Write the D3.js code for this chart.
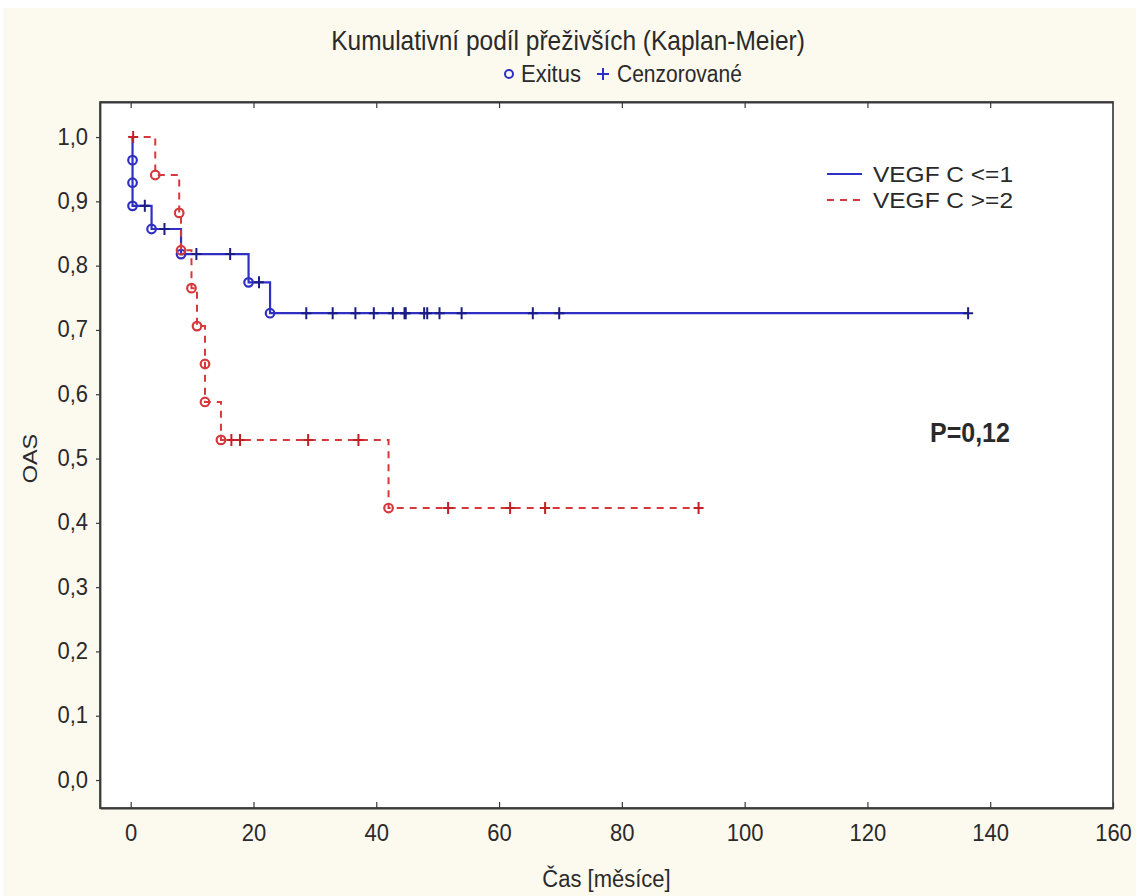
<!DOCTYPE html>
<html>
<head>
<meta charset="utf-8">
<script src="https://cdn.jsdelivr.net/npm/d3@7"></script>
<style>
  html, body { margin: 0; padding: 0; background: #ffffff; }
  svg { display: block; }
  text { font-family: "Liberation Sans", Arial, sans-serif; fill: #2a2a2a; }
</style>
</head>
<body>
<svg id="chart" width="1136" height="896"></svg>
<script>
// ---------------- data ----------------
const xTicks = [0, 20, 40, 60, 80, 100, 120, 140, 160];
const yTicks = [0, 0.1, 0.2, 0.3, 0.4, 0.5, 0.6, 0.7, 0.8, 0.9, 1.0];

const seriesNames = ["VEGF C <=1", "VEGF C >=2"];

// VEGF C <=1 : deaths (o) and censored (+)
const blueEventTimes = [0.3, 0.3, 0.3, 3.4, 8.2, 19.2, 22.7];
const blueEventSurv  = [0.964, 0.929, 0.893, 0.857, 0.818, 0.774, 0.726];
const blueCensorTimes = [2.3, 5.5, 10.7, 16.2, 20.9, 28.6, 32.9, 36.6, 39.6, 42.7,
                         44.6, 44.8, 47.8, 48.3, 50.3, 53.9, 65.5, 69.8, 136.4];

// VEGF C >=2
const redEventTimes = [4.0, 7.9, 8.2, 9.9, 10.8, 12.1, 12.1, 14.7, 42.0];
const redEventSurv  = [0.941, 0.882, 0.824, 0.765, 0.706, 0.647, 0.588, 0.529, 0.423];
const redCensorTimes = [0.4, 16.4, 17.8, 28.9, 37.1, 51.7, 61.8, 67.5, 92.5];

const titleText = "Kumulativní podíl přeživších (Kaplan-Meier)";
const markerLabels = ["Exitus", "Cenzorované"];
const xTitle = "Čas [měsíce]";
const yTitle = "OAS";
const pText = "P=0,12";

// ---------------- layout ----------------
const svg = d3.select("#chart");
const W = 1136, H = 896;
const plot = { left: 100, right: 1113, top: 102, bottom: 808 };
const STRETCH = 1.12; // reference glyphs are slightly taller than wide

const x = d3.scaleLinear().domain([-5, 160]).range([plot.left, plot.right]);
const y = d3.scaleLinear().domain([-0.0435, 1.0545]).range([plot.bottom, plot.top]);

const BLUE = "#2f2fc4", BLUE_DARK = "#1c1c86";
const RED = "#d6383c", RED_DARK = "#c41f26";

function addText(px, py, str, size, opts = {}) {
  const k = opts.stretch === undefined ? STRETCH : opts.stretch;
  const rot = opts.rotate ? ` rotate(${opts.rotate})` : "";
  const sc = opts.rotate ? `scale(${k},1)` : `scale(1,${k})`;
  const t = svg.append("text")
    .attr("transform", `translate(${px},${py})${rot} ${sc}`)
    .attr("text-anchor", opts.anchor || "start")
    .attr("font-size", size)
    .attr("font-weight", opts.bold ? "bold" : null)
    .attr("fill", opts.fill || "#2a2a2a")
    .text(str);
  if (opts.length) t.attr("textLength", opts.length).attr("lengthAdjust", "spacingAndGlyphs");
  return t;
}

// cream background
svg.append("rect").attr("x", 3).attr("y", 8).attr("width", W - 3).attr("height", H - 8)
   .attr("fill", "#fcf9ee");
// plot area
svg.append("rect").attr("x", plot.left).attr("y", plot.top)
   .attr("width", plot.right - plot.left).attr("height", plot.bottom - plot.top)
   .attr("fill", "#ffffff").attr("stroke", "#4a4a4a").attr("stroke-width", 1.8);

// ---------------- axes ----------------
const fmt = d => d3.format(".1f")(d).replace(".", ",");

const xAxisB = svg.append("g").attr("transform", `translate(0,${plot.bottom})`)
  .call(d3.axisBottom(x).tickValues(xTicks).tickSizeInner(-6).tickSizeOuter(0).tickPadding(14));
const xAxisT = svg.append("g").attr("transform", `translate(0,${plot.top})`)
  .call(d3.axisTop(x).tickValues(xTicks.slice(0, -1)).tickSizeInner(-6).tickSizeOuter(0).tickFormat(""));
const yAxisL = svg.append("g").attr("transform", `translate(${plot.left},0)`)
  .call(d3.axisLeft(y).tickValues(yTicks).tickSizeInner(4).tickSizeOuter(0).tickPadding(8).tickFormat(fmt));

[xAxisB, xAxisT, yAxisL].forEach(g => {
  g.select(".domain").attr("stroke", "#3a3a3a").attr("stroke-width", 1.8);
  g.selectAll(".tick line").attr("stroke", "#3a3a3a").attr("stroke-width", 1.2);
  g.selectAll(".tick text").attr("font-family", "Liberation Sans, Arial, sans-serif")
    .attr("font-size", 22).attr("fill", "#2a2a2a")
    .attr("transform", `scale(1,${STRETCH})`);
});
// keep the left labels centred on their ticks after the vertical stretch
yAxisL.selectAll(".tick text").attr("dy", (0.32 / STRETCH) + "em");

// ---------------- titles ----------------
addText(568, 50, titleText, 24.5, { anchor: "middle" });

// marker legend
svg.append("circle").attr("cx", 509).attr("cy", 74).attr("r", 4)
   .attr("fill", "none").attr("stroke", BLUE).attr("stroke-width", 2);
addText(521, 82, markerLabels[0], 22);
svg.append("path").attr("d", "M597,74H609M603,68V80").attr("stroke", BLUE).attr("stroke-width", 2);
addText(617, 82, markerLabels[1], 21);

addText((plot.left + plot.right) / 2, 887, xTitle, 22, { anchor: "middle" });
addText(37, y(0.5), yTitle, 21, { anchor: "middle", rotate: -90 });

addText(930, 442, pText, 25, { bold: true, fill: "#1a1a1a" });

// ---------------- KM curves ----------------
function survAt(evT, evS, t) {
  let s = 1;
  evT.forEach((et, i) => { if (et <= t) s = evS[i]; });
  return s;
}
function buildPoints(evT, evS, cT) {
  const pts = [{ t: 0, s: 1 }];
  evT.forEach((t, i) => pts.push({ t, s: evS[i] }));
  cT.forEach(t => pts.push({ t, s: survAt(evT, evS, t) }));
  return pts.sort((a, b) => a.t - b.t || b.s - a.s);
}

const line = d3.line().x(d => x(d.t)).y(d => y(d.s)).curve(d3.curveStepAfter);

function drawSeries(evT, evS, cT, color, dark, dashed) {
  const g = svg.append("g");
  g.append("path").datum(buildPoints(evT, evS, cT))
    .attr("d", line).attr("fill", "none").attr("stroke", color)
    .attr("stroke-width", dashed ? 2 : 2.2)
    .attr("stroke-dasharray", dashed ? "7,6" : null);
  g.selectAll("circle").data(evT.map((t, i) => ({ t, s: evS[i] }))).join("circle")
    .attr("cx", d => x(d.t)).attr("cy", d => y(d.s)).attr("r", 4.3)
    .attr("fill", "none").attr("stroke", color).attr("stroke-width", 2.2);
  g.selectAll("path.cens").data(cT.map(t => ({ t, s: survAt(evT, evS, t) }))).join("path")
    .attr("class", "cens")
    .attr("d", d => { const cx = x(d.t), cy = y(d.s);
      return `M${cx - 5},${cy}H${cx + 5}M${cx},${cy - 6}V${cy + 6}`; })
    .attr("stroke", dark).attr("stroke-width", 2);
}

drawSeries(blueEventTimes, blueEventSurv, blueCensorTimes, BLUE, BLUE_DARK, false);
drawSeries(redEventTimes, redEventSurv, redCensorTimes, RED, RED_DARK, true);

// ---------------- series legend ----------------
const legY = [174, 200];
seriesNames.forEach((name, i) => {
  svg.append("line").attr("x1", 827).attr("x2", 862).attr("y1", legY[i]).attr("y2", legY[i])
    .attr("stroke", i === 0 ? BLUE : RED).attr("stroke-width", 2)
    .attr("stroke-dasharray", i === 0 ? null : "7,6");
  addText(873, legY[i] + 8, name, 21.5, { stretch: 1, length: 140 });
});
</script>
</body>
</html>
